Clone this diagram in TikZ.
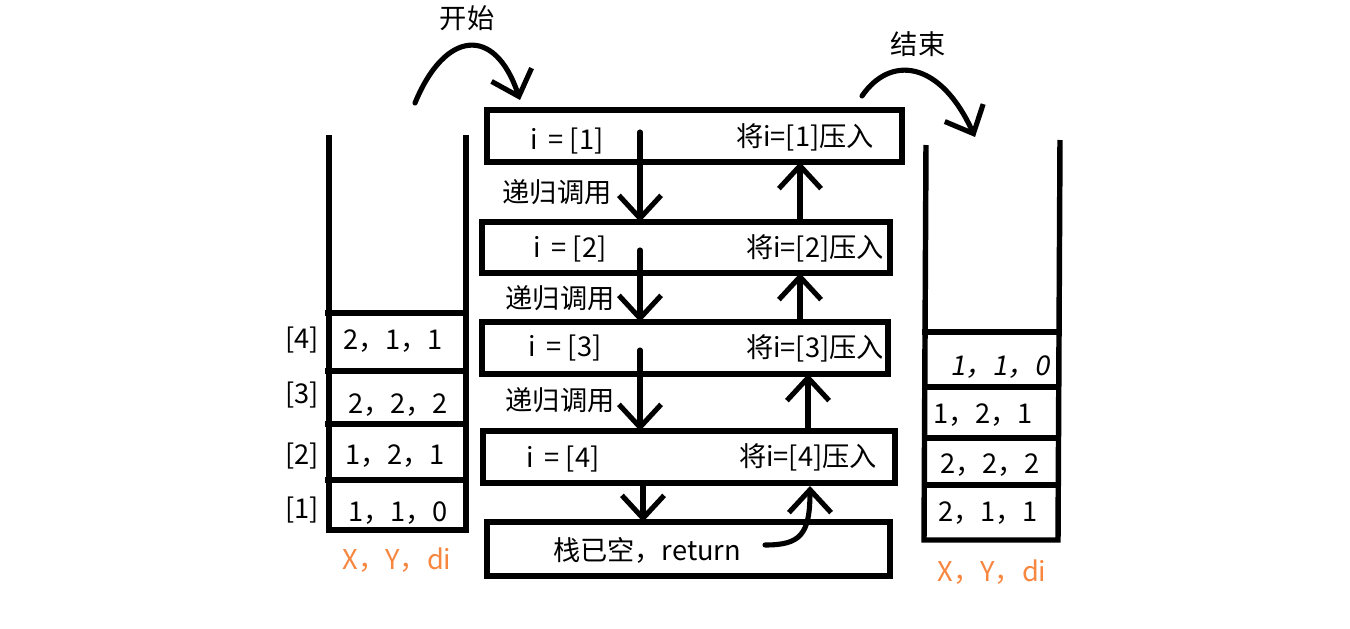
\documentclass[tikz,border=0pt]{standalone}
\usepackage{fontspec}
\setmainfont{Noto Sans CJK SC}
\newfontfamily\slantfont[FakeSlant=0.18]{Noto Sans CJK SC}
\usetikzlibrary{arrows.meta}
\definecolor{lblorange}{RGB}{247,134,62}
\tikzset{
  box/.style={draw, line width=3.1pt, inner sep=0pt, outer sep=0pt},
  txt/.style={font=\fontsize{15.5}{18}\selectfont, inner sep=0pt},
  olbl/.style={txt, text=lblorange},
  arr/.style={line width=2.9pt, line cap=round, -{Straight Barb[length=13pt,width=24pt,line width=2.9pt]}},
  stk/.style={line width=3.1pt},
}
\begin{document}
\begin{tikzpicture}[x=0.02cm,y=-0.02cm]
\useasboundingbox (0,0) rectangle (1350,629);
% boxes
\node[box, minimum width=8.3cm, minimum height=1.04cm] (b1) at (694.5,136) {};
\node[box, minimum width=8.16cm, minimum height=1.02cm] (b2) at (686,247.5) {};
\node[box, minimum width=8.12cm, minimum height=1.04cm] (b3) at (685,348) {};
\node[box, minimum width=8.24cm, minimum height=1.04cm] (b4) at (689,457) {};
\node[box, minimum width=8.06cm, minimum height=1.08cm] (b5) at (688.5,549) {};
% box texts
\node[txt] (t1a) at (567,141) {i\, = [1]};
\node[txt] (t1b) at (805,137) {将i=[1]压入};
\node[txt] (t2a) at (570,249) {i\, = [2]};
\node[txt] (t2b) at (815,248) {将i=[2]压入};
\node[txt] (t3a) at (565,348) {i\, = [3]};
\node[txt] (t3b) at (815,348) {将i=[3]压入};
\node[txt] (t4a) at (563,459) {i\, = [4]};
\node[txt] (t4b) at (808,457) {将i=[4]压入};
\node[txt] (t5) at (647,550) {栈已空，return};
% recursion labels
\node[txt] (r1) at (557,192) {递归调用};
\node[txt] (r2) at (560,298) {递归调用};
\node[txt] (r3) at (560,400) {递归调用};
% down arrows
\coordinate (d1) at (640,132);
\coordinate (d2) at (640,250);
\coordinate (d3) at (640,350);
\coordinate (d4) at (643,486);
\draw[arr] (d1) -- (d1 |- b2.north);
\draw[arr] (d2) -- (d2 |- b3.north);
\draw[arr] (d3) -- (d3 |- b4.north);
\draw[arr] (d4) -- (d4 |- b5.north);
% up arrows
\coordinate (u1) at (800,222);
\coordinate (u2) at (800,322);
\coordinate (u3) at (808,431);
\draw[arr] (u1) -- (u1 |- b1.south);
\draw[arr] (u2) -- (u2 |- b2.south);
\draw[arr] (u3) -- (u3 |- b3.south);
\coordinate (u4) at (765,545);
\coordinate (u4e) at (810,486);
\draw[arr] (u4) .. controls (800,545) and (810,535) .. (u4e);
% start / end curves
\node[txt] (start) at (467,18) {开始};
\node[txt] (end) at (918,44) {结束};
\coordinate (s0) at (415,103);
\coordinate (s1) at (520,100);
\draw[arr] (s0) .. controls (445,30) and (495,25) .. (s1);
\coordinate (e0) at (862,96);
\coordinate (e1) at (975,137);
\draw[arr] (e0) .. controls (890,55) and (940,60) .. (e1);
% left stack
\draw[stk] (329,135) -- (329,530) -- (466,530) -- (466,135);
\foreach \yy in {313,371,424,480} \draw[stk] (325,\yy) -- (466,\yy);
\node[txt] (l4) at (302,340) {[4]};
\node[txt] (l3) at (302,395) {[3]};
\node[txt] (l2) at (302,456) {[2]};
\node[txt] (l1) at (302,510) {[1]};
\node[txt] (v4) at (393,341) {2，1，1};
\node[txt] (v3) at (398,405) {2，2，2};
\node[txt] (v2) at (395,456) {1，2，1};
\node[txt] (v1) at (398,513) {1，1，0};
\node[olbl] (lx) at (397,560) {X，Y，di};
% right stack
\draw[stk] (926,145) -- (924,540) -- (1058,540) -- (1060,140);
\foreach \yy in {332,387,438,485} \draw[stk] (922,\yy) -- (1058,\yy);
\node[txt] (w1) at (1000,367) {\slantfont 1，1，0};
\node[txt] (w2) at (983,415) {1，2，1};
\node[txt] (w3) at (990,465) {2，2，2};
\node[txt] (w4) at (988,513) {2，1，1};
\node[olbl] (rx) at (992,572) {X，Y，di};
\end{tikzpicture}
\end{document}
